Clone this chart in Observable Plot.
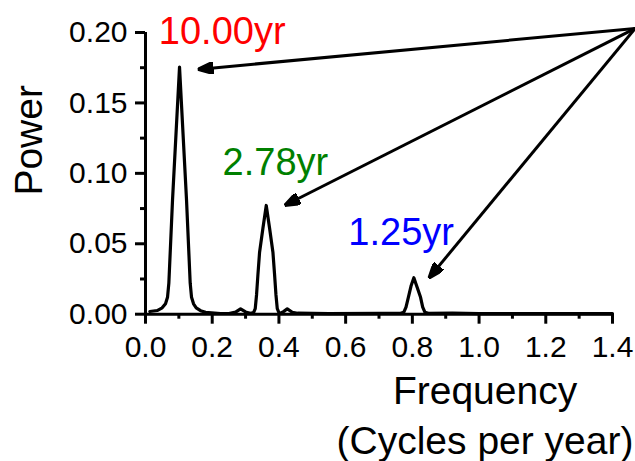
<!DOCTYPE html>
<html>
<head>
<meta charset="utf-8">
<script src="https://cdn.jsdelivr.net/npm/d3@7"></script>
<script src="https://cdn.jsdelivr.net/npm/@observablehq/plot@0.6"></script>
<style>
  html, body { margin: 0; padding: 0; background: #fff; }
  #chart { width: 635px; height: 461px; }
</style>
</head>
<body>
<div id="chart"></div>
<script>
// Periodogram (frequency in cycles per year, power)
const freq  = [0.013, 0.035, 0.050, 0.060, 0.066, 0.070, 0.081, 0.102, 0.123, 0.134, 0.138, 0.144, 0.152, 0.165, 0.180, 0.225,
               0.250, 0.270, 0.285, 0.300, 0.315, 0.324, 0.329, 0.333, 0.337, 0.342, 0.352, 0.362, 0.372, 0.382, 0.387, 0.391, 0.395, 0.400,
               0.405, 0.415, 0.425, 0.440, 0.456,
               0.550, 0.700, 0.765, 0.7745, 0.781, 0.788, 0.796, 0.8045, 0.813, 0.8246, 0.831, 0.8375, 0.848, 0.920, 1.000, 1.400];
const power = [0.0019, 0.0026, 0.0045, 0.0074, 0.0120, 0.0220, 0.0810, 0.1754, 0.0810, 0.0220, 0.0120, 0.0074, 0.0045, 0.0025, 0.0014, 0.0005,
               0.0005, 0.0015, 0.0038, 0.0016, 0.0007, 0.0012, 0.0040, 0.0140, 0.0280, 0.0440, 0.0610, 0.0772, 0.0610, 0.0440, 0.0280, 0.0140, 0.0040, 0.0012,
               0.0007, 0.0020, 0.0038, 0.0014, 0.0007,
               0.0004, 0.0006, 0.0006, 0.0014, 0.0050, 0.0120, 0.0200, 0.0259, 0.0200, 0.0120, 0.0050, 0.0014, 0.0006, 0.0008, 0.0004, 0.0004];

// Period annotations
const labels      = ["10.00yr", "2.78yr", "1.25yr"];
const labelColors = ["#ff0000", "#008000", "#0000ff"];
const labelX      = [0.040, 0.231, 0.608];
const labelY      = [0.192, 0.0985, 0.0488];

// Arrows from the top-right corner to each peak
const arrowFromX = 1.468, arrowFromY = 0.2029;
const arrowToX   = [0.1565, 0.4168, 0.8495];
const arrowToY   = [0.1738, 0.0772, 0.0256];

// Ticks
const xMajor = [0, 0.2, 0.4, 0.6, 0.8, 1.0, 1.2, 1.4];
const xMinor = [0.1, 0.3, 0.5, 0.7, 0.9, 1.1, 1.3];
const yMajor = [0, 0.05, 0.10, 0.15, 0.20];
const yMinor = [0.025, 0.075, 0.125, 0.175];

const xLabel = "Frequency\n(Cycles per year)";
const yLabel = "Power";

const series = freq.map((f, i) => ({f, p: power[i]}));
const notes = labels.map((t, i) => ({t, c: labelColors[i], x: labelX[i], y: labelY[i]}));
const arrows = arrowToX.map((x, i) => ({x1: arrowFromX, y1: arrowFromY, x2: x, y2: arrowToY[i]}));

function filledArrow(color) {
  const ns = "http://www.w3.org/2000/svg";
  const m = document.createElementNS(ns, "marker");
  m.setAttribute("viewBox", "-16 -6 16 12");
  m.setAttribute("markerUnits", "userSpaceOnUse");
  m.setAttribute("markerWidth", 16);
  m.setAttribute("markerHeight", 12);
  m.setAttribute("refX", 0);
  m.setAttribute("refY", 0);
  m.setAttribute("orient", "auto");
  const p = document.createElementNS(ns, "path");
  p.setAttribute("d", "M0,0L-16,-6L-16,6Z");
  p.setAttribute("fill", color);
  m.appendChild(p);
  return m;
}

function build(useMarker) {
  const arrowMark = useMarker
    ? Plot.link(arrows, {x1: "x1", y1: "y1", x2: "x2", y2: "y2", stroke: "black", strokeWidth: 3, markerEnd: filledArrow})
    : Plot.arrow(arrows, {x1: "x1", y1: "y1", x2: "x2", y2: "y2", stroke: "black", strokeWidth: 3, headLength: 16, headAngle: 40, inset: 0});
  return Plot.plot({
    width: 635,
    height: 461,
    marginLeft: 145,
    marginRight: 23,
    marginTop: 32,
    marginBottom: 147.3,
    style: {fontFamily: "'Liberation Sans', Arial, sans-serif", fontSize: "30px", background: "#fff", color: "#000", overflow: "visible"},
    x: {domain: [0, 1.4]},
    y: {domain: [0, 0.2]},
    color: {type: "identity"},
    marks: [
      Plot.axisX({ticks: xMajor, tickSize: 10, tickPadding: 11, tickFormat: d3.format(".1f"), strokeWidth: 3, fontSize: 30, label: null}),
      Plot.axisX({ticks: xMinor, tickSize: 5, tickFormat: () => "", strokeWidth: 3, label: null}),
      Plot.axisY({ticks: yMajor, tickSize: 10, tickPadding: 8, tickFormat: d3.format(".2f"), strokeWidth: 3, fontSize: 30, label: null}),
      Plot.axisY({ticks: yMinor, tickSize: 5, tickFormat: () => "", strokeWidth: 3, label: null}),
      Plot.ruleY([0], {strokeWidth: 3}),
      Plot.ruleX([0], {strokeWidth: 3}),
      Plot.line(series, {x: "f", y: "p", stroke: "black", strokeWidth: 3.2, strokeLinejoin: "round"}),
      arrowMark,
      Plot.text(notes, {x: "x", y: "y", text: "t", fill: "c", textAnchor: "start", lineAnchor: "bottom", fontSize: 38}),
      Plot.text([xLabel], {frameAnchor: "bottom", textAnchor: "middle", dx: 106, dy: 140, lineAnchor: "bottom", lineHeight: 1.3, fontSize: 39, fill: "black"}),
      Plot.text([yLabel], {frameAnchor: "left", textAnchor: "middle", lineAnchor: "middle", dx: -116, dy: -33, rotate: -90, fontSize: 39, fill: "black"})
    ]
  });
}

let chart;
try { chart = build(true); } catch (e) { chart = build(false); }
document.getElementById("chart").appendChild(chart);
</script>
</body>
</html>
